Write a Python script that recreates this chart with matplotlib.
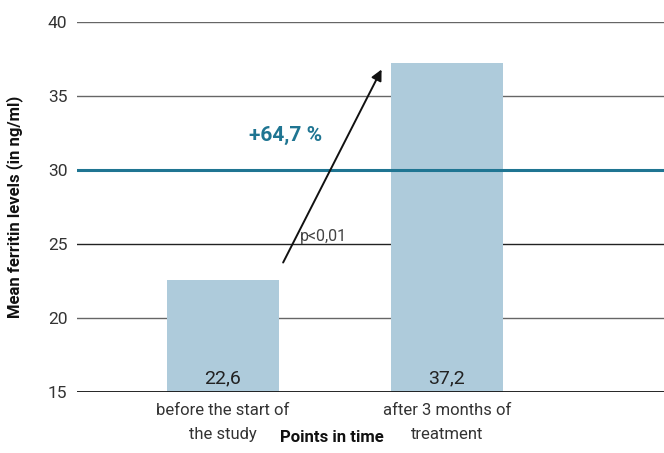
import matplotlib.pyplot as plt

plt.rcParams['font.family'] = ['Roboto', 'DejaVu Sans']

# data
categories = ['before the start of\nthe study', 'after 3 months of\ntreatment']
values = [22.6, 37.2]
value_labels = ['22,6', '37,2']
yticks = [15, 20, 25, 30, 35, 40]

fig = plt.figure(figsize=(6.64, 4.53), dpi=100)
ax = fig.add_axes([0.116, 0.1347, 0.884, 0.8167])

x = [0, 1]
bar_color = '#aecbdb'
teal = '#1f7592'

# grid lines behind bars
for yv in [20, 25, 35, 40]:
    col = '#222222' if yv == 25 else '#666666'
    ax.axhline(yv, color=col, lw=1.0, zorder=1)

ax.bar(x, [v - 15 for v in values], bottom=15, width=0.5, color=bar_color, zorder=2)
ax.axhline(30, color=teal, lw=2.2, zorder=3)
ax.axhline(15, color='#111111', lw=2.0, zorder=4)

for xi, lab in zip(x, value_labels):
    ax.text(xi, 15.95, lab, ha='center', va='center', fontsize=14, color='#222222', zorder=5)

# arrow and annotations
ax.annotate('', xy=(0.714, 36.96), xytext=(0.263, 23.58),
            arrowprops=dict(arrowstyle='-|>', color='#111111', lw=1.4, mutation_scale=16),
            zorder=6)
ax.text(0.28, 32.36, '+64,7 %', ha='center', va='center', fontsize=15,
        fontweight='bold', color=teal)
ax.text(0.45, 25.5, 'p<0,01', ha='center', va='center', fontsize=11.5, color='#444444')

ax.set_xlim(-0.652, 1.97)
ax.set_ylim(15, 40)
ax.set_yticks(yticks)
ax.set_xticks(x)
ax.set_xticklabels(categories, fontsize=12, color='#333333', linespacing=1.75)
ax.tick_params(axis='y', length=0, pad=7, labelsize=12.5, labelcolor='#333333')
ax.tick_params(axis='x', length=0, pad=8)
for s in ax.spines.values():
    s.set_visible(False)

ax.set_ylabel('Mean ferritin levels (in ng/ml)', fontsize=12, fontweight='bold',
              color='#111111')
ax.yaxis.set_label_coords(-0.092, 0.5)
fig.text(332 / 664, 1 - 438 / 453, 'Points in time', ha='center', va='center',
         fontsize=12, fontweight='bold', color='#111111')

fig.savefig('out.png', dpi=100)
